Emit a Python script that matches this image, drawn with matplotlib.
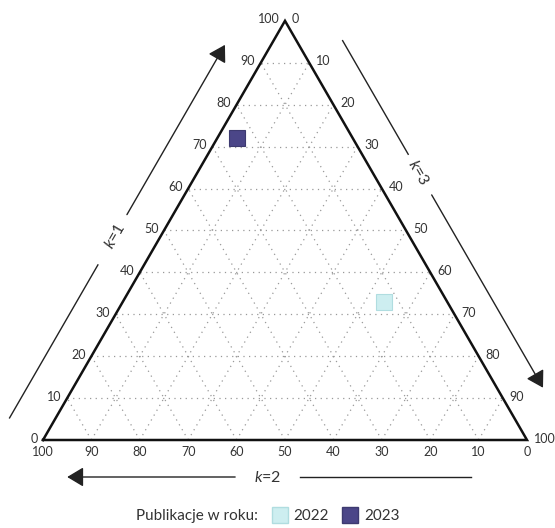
import numpy as np
import matplotlib
matplotlib.use("Agg")
import matplotlib.pyplot as plt
from matplotlib.lines import Line2D

plt.rcParams['font.family'] = ['Lato', 'DejaVu Sans']
plt.rcParams['mathtext.fontset'] = 'custom'
plt.rcParams['mathtext.it'] = 'Lato:italic'
plt.rcParams['mathtext.rm'] = 'Lato'

# data: composition (k1, k2, k3) in percent
years = ['2022', '2023']
k1_vals = [33, 72]
k2_vals = [13, 24]
k3_vals = [54, 4]
colors = ['#cdeef0', '#4b4688']
edges = ['#b0dde0', '#3d3a70']

ticks = list(range(0, 101, 10))

H = np.sqrt(3) / 2
text_col = '#333333'


def to_xy(a, b, c):
    # a -> top vertex, b -> bottom-left, c -> bottom-right
    s = a + b + c
    a, b, c = a / s, b / s, c / s
    return c + 0.5 * a, H * a


fig = plt.figure(figsize=(5.55, 5.28), dpi=100)
ax = fig.add_axes([0, 0, 1, 1])
scale = 484.0
ax.set_xlim(-43 / scale, 512 / scale)
ax.set_ylim((440 - 528) / scale, 440 / scale)
ax.axis('off')

# grid
for v in ticks[1:-1]:
    f = v / 100
    for p, q in [(to_xy(f, 1 - f, 0), to_xy(f, 0, 1 - f)),
                 (to_xy(0, f, 1 - f), to_xy(1 - f, f, 0)),
                 (to_xy(0, 1 - f, f), to_xy(1 - f, 0, f))]:
        ax.plot([p[0], q[0]], [p[1], q[1]], color='#999999', lw=0.9,
                dashes=(1, 3.5), zorder=1)

# triangle
tri = [to_xy(0, 1, 0), to_xy(0, 0, 1), to_xy(1, 0, 0), to_xy(0, 1, 0)]
ax.plot([p[0] for p in tri], [p[1] for p in tri], color='#111111', lw=1.8,
        zorder=3, solid_joinstyle='miter')

# tick labels
for v in ticks:
    f = v / 100
    ax.annotate(str(v), to_xy(f, 1 - f, 0), xytext=(-4, 1),
                textcoords='offset points', ha='right', va='center',
                fontsize=9, color=text_col)
    ax.annotate(str(v), to_xy(1 - f, 0, f), xytext=(5, 1),
                textcoords='offset points', ha='left', va='center',
                fontsize=9, color=text_col)
    ax.annotate(str(v), to_xy(0, f, 1 - f), xytext=(0, -4),
                textcoords='offset points', ha='center', va='top',
                fontsize=9, color=text_col)

# axis titles with arrows
off = 40 / scale


def side_pt(p0, p1, t, n):
    d = np.array(p1) - np.array(p0)
    d = d / np.linalg.norm(d)
    nv = np.array([-d[1], d[0]])  # outward normal for this traversal
    return np.array(p0) + d * t + nv * n


BL, BR, TOP = to_xy(0, 1, 0), to_xy(0, 0, 1), to_xy(1, 0, 0)
arrow_kw = dict(arrowstyle='-|>,head_length=0.5,head_width=0.3',
                color='#222222', lw=1.0, mutation_scale=20,
                shrinkA=0, shrinkB=0)
axis_specs = [
    # (from, to, start, gap0, label, gap1, tip, label, rotation, offset)
    (BL, TOP, 0.005, 0.37, 0.44, 0.49, 0.895, '$k$=1', 60, off),
    (TOP, BR, 0.095, 0.366, 0.41, 0.463, 0.923, '$k$=3', -60, off),
    (BR, BL, 0.116, 0.469, 0.535, 0.603, 0.95, '$k$=2', 0, 37 / scale),
]
for p0, p1, t0, g0, tl, g1, t1, lab, rot, o in axis_specs:
    a = side_pt(p0, p1, t0, o)
    b = side_pt(p0, p1, g0, o)
    c = side_pt(p0, p1, g1, o)
    d = side_pt(p0, p1, t1, o)
    lp = side_pt(p0, p1, tl, o)
    ax.plot([a[0], b[0]], [a[1], b[1]], color='#222222', lw=1.0)
    ax.annotate('', xy=d, xytext=c, arrowprops=arrow_kw)
    ax.text(lp[0], lp[1], lab, rotation=rot, ha='center', va='center',
            fontsize=11.5, color=text_col, rotation_mode='anchor')

# points
for i, yr in enumerate(years):
    x, y = to_xy(k1_vals[i], k2_vals[i], k3_vals[i])
    ax.plot(x, y, marker='s', ms=11.5, color=colors[i], mec=edges[i],
            mew=0.8, ls='none', zorder=4, label=yr)

handles = [Line2D([], [], ls='none', marker=None, label='Publikacje w roku:')]
handles += [Line2D([], [], ls='none', marker='s', ms=11, color=colors[i],
                   mec=edges[i], label=yr) for i, yr in enumerate(years)]
leg = fig.legend(handles=handles, loc='center', bbox_to_anchor=(0.465, 0.022),
                 ncol=3, frameon=False, fontsize=11, handlelength=0.8,
                 handletextpad=0.5, columnspacing=1.0)
for t in leg.get_texts():
    t.set_color(text_col)

fig.savefig('out.png', dpi=100)
